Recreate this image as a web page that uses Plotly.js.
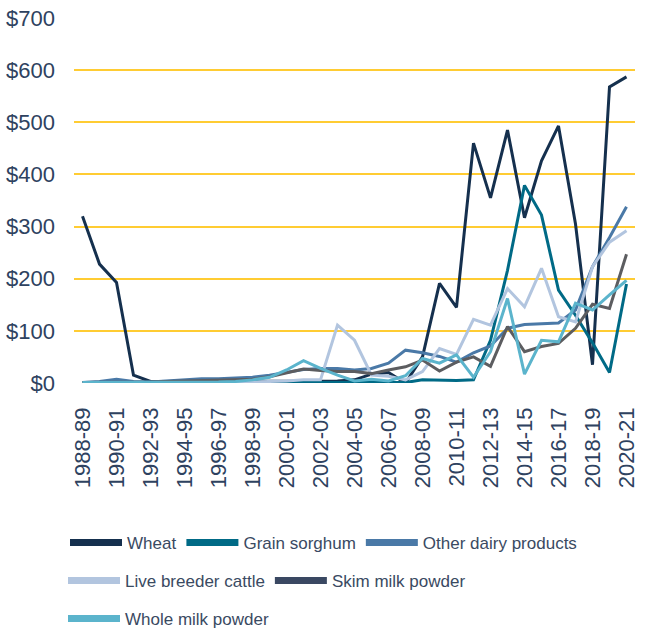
<!DOCTYPE html>
<html>
<head>
<meta charset="utf-8">
<script src="https://cdn.plot.ly/plotly-3.0.1.min.js"></script>
<style>html,body{margin:0;padding:0;background:#fff;}#chart{width:656px;height:630px;}</style>
</head>
<body>
<div id="chart"></div>
<script>
const years = ["1988-89","1989-90","1990-91","1991-92","1992-93","1993-94","1994-95","1995-96","1996-97","1997-98","1998-99","1999-00","2000-01","2001-02","2002-03","2003-04","2004-05","2005-06","2006-07","2007-08","2008-09","2009-10","2010-11","2011-12","2012-13","2013-14","2014-15","2015-16","2016-17","2017-18","2018-19","2019-20","2020-21"];
const wheat = [320,228,193,15,3,3,4,4,3,3,3,3,3,3,3,4,6,17,20,0,50,191,145,460,355,485,317,426,493,305,35,568,587];
const grainSorghum = [1,1,1,1,1,1,1,1,1,1,1,1,1,1,2,2,2,2,2,1,6,5,5,6,82,216,379,322,178,130,77,20,190];
const otherDairy = [1,3,7,3,2,4,6,8,8,9,11,15,20,26,28,28,25,28,38,63,58,51,40,58,71,105,112,114,115,140,223,279,338];
const liveCattle = [0,0,1,1,1,1,1,1,1,2,2,3,4,6,6,111,82,15,13,6,22,66,55,122,111,181,146,220,127,117,223,270,292];
const skimMilk = [1,1,2,1,2,3,4,4,5,6,7,12,20,27,24,22,22,18,25,31,44,23,40,50,32,108,60,70,76,105,151,143,247];
const wholeMilk = [1,1,1,1,1,1,1,1,2,3,6,11,25,43,28,15,4,7,4,14,47,38,54,11,60,162,17,82,79,153,140,169,197];
const yTickVals = [0,100,200,300,400,500,600,700];
const yTickText = ["$0","$100","$200","$300","$400","$500","$600","$700"];
const xTickVals = years.filter((d,i)=>i%2===0);

const series = [
  {name:"Wheat", y:wheat, color:"#15304e", legendColor:"#15304e", legend:"legend"},
  {name:"Grain sorghum", y:grainSorghum, color:"#006a86", legendColor:"#006a86", legend:"legend"},
  {name:"Other dairy products", y:otherDairy, color:"#4a79a7", legendColor:"#4a79a7", legend:"legend"},
  {name:"Live breeder cattle", y:liveCattle, color:"#b2c5df", legendColor:"#b2c5df", legend:"legend2"},
  {name:"Skim milk powder", y:skimMilk, color:"#5c5d60", legendColor:"#3a4862", legend:"legend2"},
  {name:"Whole milk powder", y:wholeMilk, color:"#5bb4cc", legendColor:"#5bb4cc", legend:"legend3"}
];

const traces = [];
series.forEach(s => {
  traces.push({type:"scatter", mode:"lines", x:years, y:s.y, name:s.name,
    line:{color:s.color, width:3}, showlegend:false, hoverinfo:"skip"});
});
series.forEach(s => {
  traces.push({type:"scatter", mode:"lines", x:[null], y:[null], name:s.name,
    line:{color:s.legendColor, width:7}, showlegend:true, legend:s.legend});
});

const font = {family:"Liberation Sans, Arial, sans-serif", color:"#2e4260"};
const legendBase = {orientation:"h", xref:"container", yref:"container", xanchor:"left", yanchor:"middle",
  font:{family:font.family, size:17, color:"#3a4a62"}, bgcolor:"rgba(0,0,0,0)", itemwidth:52, itemclick:false, itemdoubleclick:false};

const layout = {
  width:656, height:630,
  margin:{l:74, r:21, t:18, b:247},
  paper_bgcolor:"#fff", plot_bgcolor:"#fff",
  showlegend:true,
  font:font,
  xaxis:{type:"category", range:[-0.5,32.5], tickmode:"array", tickvals:xTickVals, ticktext:xTickVals,
    tickangle:-90, tickfont:{size:22, color:"#2e4260"}, showgrid:false, zeroline:false, showline:false,
    ticks:"", ticklabelstandoff:19, fixedrange:true},
  yaxis:{range:[0,700], tickmode:"array", tickvals:yTickVals, ticktext:yTickText,
    tickfont:{size:22, color:"#2e4260"}, showgrid:true, gridcolor:"#ffcc33", gridwidth:2,
    zeroline:false, showline:false, ticks:"", ticklabelstandoff:18, fixedrange:true},
  legend:Object.assign({}, legendBase, {x:65/656, y:1-543/630}),
  legend2:Object.assign({}, legendBase, {x:63/656, y:1-581/630}),
  legend3:Object.assign({}, legendBase, {x:63/656, y:1-619/630})
};

Plotly.newPlot("chart", traces, layout, {displayModeBar:false, staticPlot:true});
</script>
</body>
</html>
